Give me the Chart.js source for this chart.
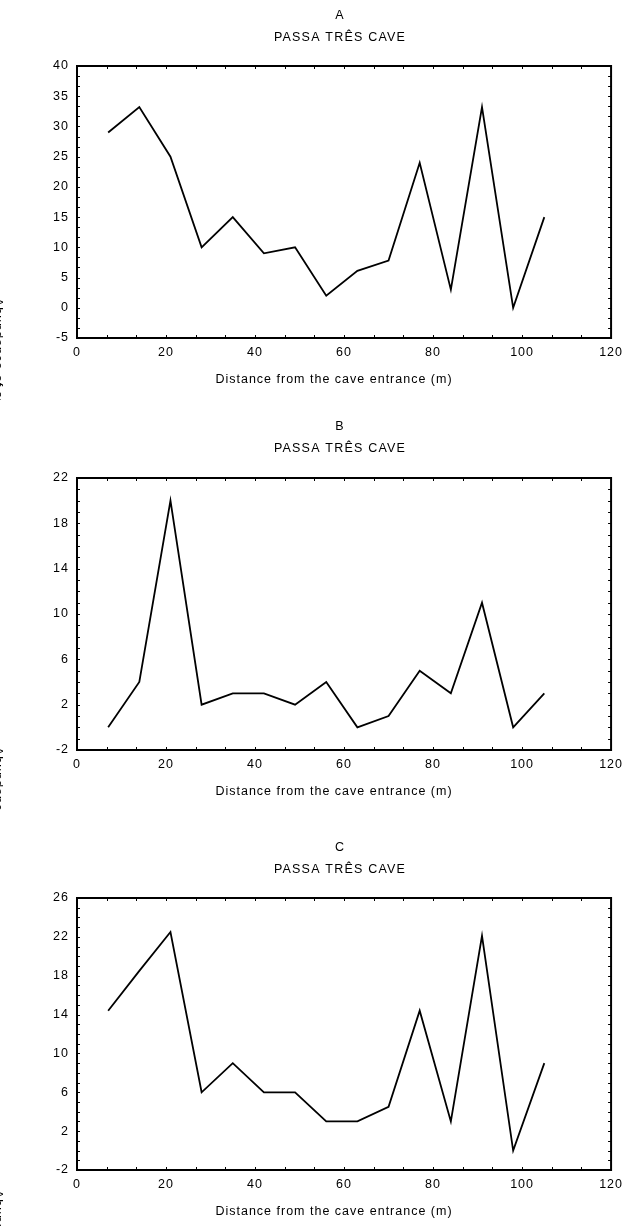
<!DOCTYPE html>
<html lang="en">
<head>
<meta charset="UTF-8">
<title>Passa Três Cave</title>
<script src="https://cdn.jsdelivr.net/npm/chart.js"></script>
<style>
    body { margin: 0; background: #fff; }
    canvas { position: absolute; left: 0; }
</style>
</head>
<body>

<canvas id="graficoA" width="630" height="400" style="top:0px"></canvas>
<canvas id="graficoB" width="630" height="415" style="top:400px"></canvas>
<canvas id="graficoC" width="630" height="411" style="top:815px"></canvas>

<script>
// dados
const distancias = [7, 14, 21, 28, 35, 42, 49, 56, 63, 70, 77, 84, 91, 98, 105];
const valoresA = [29, 33.2, 25, 10, 15, 9, 10, 2, 6.1, 7.8, 24, 3, 33.2, 0, 15];
const valoresB = [0, 4, 20, 2, 3, 3, 2, 4, 0, 1, 5, 3, 11, 0, 3];
const valoresC = [14.4, 18.5, 22.5, 6, 9, 6, 6, 3, 3, 4.5, 14.4, 3, 22.1, 0, 9];

const ticksX = [0, 20, 40, 60, 80, 100, 120];
const ticksA = [-5, 0, 5, 10, 15, 20, 25, 30, 35, 40];
const ticksB = [-2, 2, 6, 10, 14, 18, 22];
const ticksC = [-2, 2, 6, 10, 14, 18, 22, 26];

const letras = ['A', 'B', 'C'];
const nomeCaverna = 'PASSA TRÊS CAVE';
const tituloX = 'Distance from the cave entrance (m)';
const tituloY = 'Abundance of specimens';

const fonte = '"Liberation Sans", Arial, sans-serif';
Chart.defaults.font.family = fonte;
Chart.defaults.font.size = 12.5;
Chart.defaults.color = '#000';

// moldura, ticks para dentro e textos
const moldura = {
    id: 'moldura',
    beforeLayout(chart) { chart.ctx.letterSpacing = '1px'; },
    beforeDraw(chart) { chart.ctx.letterSpacing = '1px'; },
    afterDraw(chart, args, o) {
        const ctx = chart.ctx;
        const a = chart.chartArea;
        const sx = chart.scales.x;
        const sy = chart.scales.y;
        ctx.save();
        ctx.strokeStyle = '#000';
        ctx.lineWidth = 2;
        ctx.strokeRect(a.left, a.top, a.right - a.left, a.bottom - a.top);

        ctx.lineWidth = 1;
        ctx.beginPath();
        const tx = sx.ticks.map(t => t.value);
        for (let i = 0; i < tx.length - 1; i++) {
            for (let k = 0; k < o.subX; k++) {
                const px = Math.round(sx.getPixelForValue(tx[i] + (tx[i + 1] - tx[i]) * k / o.subX)) + 0.5;
                ctx.moveTo(px, a.bottom); ctx.lineTo(px, a.bottom - 3);
                ctx.moveTo(px, a.top); ctx.lineTo(px, a.top + 3);
            }
        }
        const ty = sy.ticks.map(t => t.value);
        for (let i = 0; i < ty.length - 1; i++) {
            for (let k = 0; k < o.subY; k++) {
                const py = Math.round(sy.getPixelForValue(ty[i] + (ty[i + 1] - ty[i]) * k / o.subY)) + 0.5;
                ctx.moveTo(a.left, py); ctx.lineTo(a.left + 3, py);
                ctx.moveTo(a.right, py); ctx.lineTo(a.right - 3, py);
            }
        }
        ctx.stroke();

        ctx.fillStyle = '#000';
        ctx.font = '12.5px ' + fonte;
        ctx.textAlign = 'center';
        ctx.textBaseline = 'middle';
        ctx.letterSpacing = '1.2px';
        ctx.fillText(o.letra, 340, o.yLetra);
        ctx.fillText(nomeCaverna, 340, o.yLetra + 22);
        ctx.letterSpacing = '1px';
        ctx.fillText(tituloX, 334, a.bottom + 42);

        // rotulo do eixo y, quase todo fora da figura
        ctx.beginPath();
        ctx.rect(0, o.yRotulo, 10, o.fimRotulo - o.yRotulo);
        ctx.clip();
        ctx.translate(-6, o.yRotulo);
        ctx.rotate(Math.PI / 2);
        ctx.textAlign = 'left';
        ctx.textBaseline = 'alphabetic';
        ctx.fillText(tituloY, 0, 0);
        ctx.restore();
    }
};

function criarGrafico(id, valores, ticksY, cfg) {
    const canvas = document.getElementById(id);
    const pontos = distancias.map((d, i) => ({ x: d, y: valores[i] }));
    return new Chart(canvas, {
        type: 'line',
        data: {
            datasets: [{
                data: pontos,
                borderColor: '#000',
                borderWidth: 1.8,
                pointRadius: 0,
                tension: 0,
                fill: false
            }]
        },
        options: {
            responsive: false,
            animation: false,
            layout: { padding: { top: cfg.topo, right: 17.5, left: 0, bottom: 0 } },
            plugins: {
                legend: { display: false },
                tooltip: { enabled: false },
                moldura: cfg
            },
            scales: {
                x: {
                    type: 'linear',
                    min: ticksX[0],
                    max: ticksX[ticksX.length - 1],
                    afterBuildTicks: s => { s.ticks = ticksX.map(v => ({ value: v })); },
                    afterFit: s => { s.height = canvas.height - cfg.base; },
                    grid: { display: false, drawTicks: false },
                    border: { display: false },
                    ticks: { padding: 7, maxRotation: 0, autoSkip: false }
                },
                y: {
                    type: 'linear',
                    min: ticksY[0],
                    max: ticksY[ticksY.length - 1],
                    afterBuildTicks: s => { s.ticks = ticksY.map(v => ({ value: v })); },
                    afterFit: s => { s.width = 77; },
                    grid: { display: false, drawTicks: false },
                    border: { display: false },
                    ticks: { padding: 8, autoSkip: false }
                }
            }
        },
        plugins: [moldura]
    });
}

criarGrafico('graficoA', valoresA, ticksA,
    { letra: letras[0], topo: 66, base: 338, yLetra: 16, subX: 3, subY: 3, yRotulo: 298, fimRotulo: 400 });
criarGrafico('graficoB', valoresB, ticksB,
    { letra: letras[1], topo: 78, base: 350, yLetra: 27, subX: 3, subY: 4, yRotulo: 347, fimRotulo: 412 });
criarGrafico('graficoC', valoresC, ticksC,
    { letra: letras[2], topo: 83, base: 355, yLetra: 33, subX: 3, subY: 4, yRotulo: 375, fimRotulo: 411 });
</script>

</body>
</html>
